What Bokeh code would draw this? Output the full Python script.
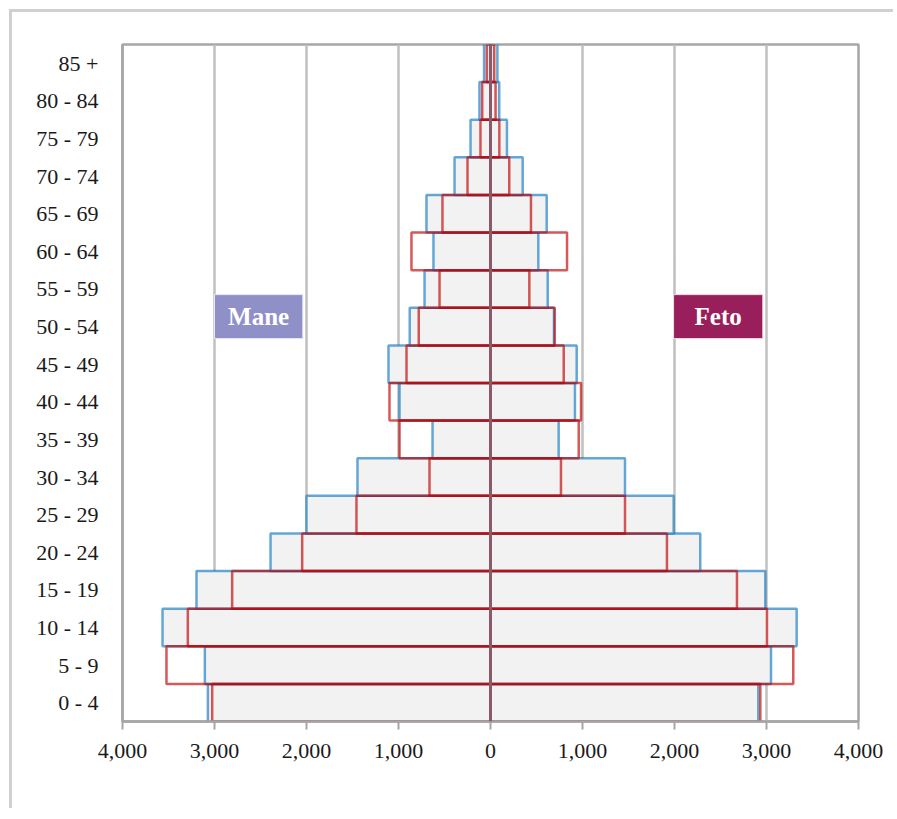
from bokeh.plotting import figure
from bokeh.models import Range1d, FixedTicker, CustomJSTickFormatter, Span
from bokeh.core.properties import value
from bokeh.embed import file_html
from bokeh.resources import INLINE

age_groups = ["0 - 4", "5 - 9", "10 - 14", "15 - 19", "20 - 24", "25 - 29", "30 - 34",
              "35 - 39", "40 - 44", "45 - 49", "50 - 54", "55 - 59", "60 - 64",
              "65 - 69", "70 - 74", "75 - 79", "80 - 84", "85 +"]

# blue-outlined series (filled)
male_blue = [3072, 3105, 3565, 3196, 2391, 2000, 1446, 630, 989, 1109, 878, 717, 620,
             696, 391, 217, 120, 70]
female_blue = [2911, 3049, 3328, 2987, 2280, 1991, 1462, 741, 918, 937, 690, 622, 520,
               611, 350, 179, 95, 75]
# red-outlined series (outline only)
male_red = [3025, 3522, 3290, 2808, 2047, 1457, 663, 989, 1098, 913, 780, 554, 859,
            522, 250, 109, 90, 40]
female_red = [2933, 3291, 3005, 2679, 1918, 1462, 766, 959, 984, 796, 698, 422, 832,
              440, 204, 96, 55, 40]

x_ticks = [-4000, -3000, -2000, -1000, 0, 1000, 2000, 3000, 4000]

FONT = "Liberation Serif"

p = figure(width=884, height=799, output_backend="svg", toolbar_location=None,
           x_range=Range1d(-4000, 4000), y_range=Range1d(-0.5, 17.5),
           min_border_left=110, min_border_right=38, min_border_top=32,
           min_border_bottom=90)
p.styles = {"margin-left": "9px", "margin-top": "9px",
            "border-top": "3px solid #d0d0d0", "border-left": "3px solid #d0d0d0"}

p.background_fill_color = "white"
p.border_fill_color = "white"
p.outline_line_color = "#a6a6a6"
p.outline_line_width = 2.5

n = len(age_groups)
idx = list(range(n))
bottoms = [i - 0.5 for i in idx]
tops = [i + 0.5 for i in idx]

BLUE = "#0070c0"
RED = "#c00000"

# blue bars: filled
p.quad(left=[-v for v in male_blue], right=[0] * n, bottom=bottoms, top=tops,
       fill_color="#f2f2f2", line_color=BLUE, line_alpha=0.6, line_width=2.5)
p.quad(left=[0] * n, right=female_blue, bottom=bottoms, top=tops,
       fill_color="#f2f2f2", line_color=BLUE, line_alpha=0.6, line_width=2.5)
# red bars: outline only
p.quad(left=[-v for v in male_red], right=[0] * n, bottom=bottoms, top=tops,
       fill_color=None, line_color=RED, line_alpha=0.65, line_width=2.5)
p.quad(left=[0] * n, right=female_red, bottom=bottoms, top=tops,
       fill_color=None, line_color=RED, line_alpha=0.65, line_width=2.5)

# overlapping bar edges at zero look purplish
p.add_layout(Span(location=0, dimension="height", line_color="#8a5a6c",
                  line_width=3))

# sex labels
p.quad(left=[-3000], right=[-2040], bottom=[9.68], top=[10.85],
       fill_color="#9090c8", line_color="#e8e8f4", line_width=1)
p.text(x=[-2520], y=[10.27], text=["Mane"], text_color="white",
       text_font=value(FONT), text_font_style="bold", text_font_size="25px",
       text_align="center", text_baseline="middle")
p.quad(left=[1990], right=[2960], bottom=[9.68], top=[10.85],
       fill_color="#991e5c", line_color="#f0e0e8", line_width=1)
p.text(x=[2475], y=[10.27], text=["Feto"], text_color="white",
       text_font=value(FONT), text_font_style="bold", text_font_size="25px",
       text_align="center", text_baseline="middle")

# x axis
p.xaxis.ticker = FixedTicker(ticks=x_ticks)
p.xaxis.formatter = CustomJSTickFormatter(
    code="return Math.abs(tick).toLocaleString('en-US');")
p.xaxis.axis_line_color = "#a6a6a6"
p.xaxis.axis_line_width = 2.5
p.xaxis.major_tick_line_color = "#a6a6a6"
p.xaxis.major_tick_line_width = 2
p.xaxis.major_tick_out = 8
p.xaxis.major_tick_in = 0
p.xaxis.minor_tick_line_color = None
p.xaxis.major_label_text_font = FONT
p.xaxis.major_label_text_font_size = "22px"
p.xaxis.major_label_text_color = "#1a1a1a"
p.xaxis.major_label_standoff = 14

# y axis
p.yaxis.ticker = FixedTicker(ticks=idx)
p.yaxis.formatter = CustomJSTickFormatter(args=dict(labels=age_groups),
                                          code="return labels[tick];")
p.yaxis.axis_line_color = "#a6a6a6"
p.yaxis.axis_line_width = 2.5
p.yaxis.major_tick_line_color = None
p.yaxis.minor_tick_line_color = None
p.yaxis.major_label_text_font = FONT
p.yaxis.major_label_text_font_size = "22px"
p.yaxis.major_label_text_color = "#1a1a1a"
p.yaxis.major_label_standoff = 18

# grid
p.xgrid.grid_line_color = "#c0c0c0"
p.xgrid.grid_line_width = 2.5
p.ygrid.grid_line_color = None

open("out.html", "w").write(file_html(p, INLINE))
